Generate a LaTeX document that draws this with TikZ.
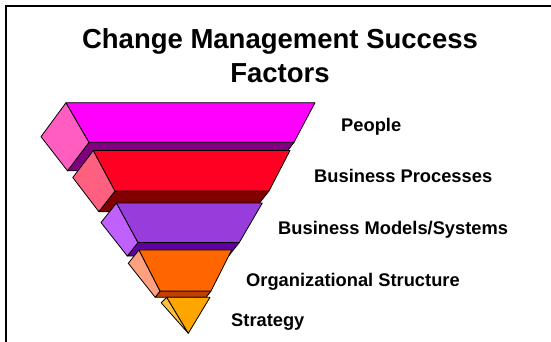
\documentclass[tikz,border=0pt]{standalone}
\usepackage{fontspec}
\setmainfont{Liberation Sans}
\definecolor{fA}{HTML}{FF00FF}\definecolor{sA}{HTML}{FF5EC0}\definecolor{bA}{HTML}{800080}
\definecolor{fB}{HTML}{FF0022}\definecolor{sB}{HTML}{FF6080}\definecolor{bB}{HTML}{800000}
\definecolor{fC}{HTML}{993CDC}\definecolor{sC}{HTML}{C060FF}\definecolor{bC}{HTML}{6000A0}
\definecolor{fD}{HTML}{FF6600}\definecolor{sD}{HTML}{FFA080}\definecolor{bD}{HTML}{C04000}
\definecolor{fE}{HTML}{FFA500}\definecolor{sE}{HTML}{FFC040}
\tikzset{
  face/.style={draw=black, line width=0.8pt, line join=round},
  lab/.style={anchor=base west, inner sep=0pt, font=\fontsize{18.3}{22}\selectfont\bfseries},
  ttl/.style={anchor=base, inner sep=0pt, font=\fontsize{27.5}{34}\selectfont\bfseries}
}
\begin{document}
\begin{tikzpicture}[x=1pt,y=-1pt]
\useasboundingbox (0,0) rectangle (551,341);
\draw[line width=2pt] (6,345) -- (6,6) -- (555,6);
% title
\node[ttl] (title1) at (280,48) {Change Management Success};
\node[ttl] (title2) at (280,82) {Factors};
% slab 1 People
\filldraw[face, fill=bA] (89,142.3) -- (294,142.3) -- (272.5,170.8) -- (67.5,170.8) -- cycle;
\filldraw[face, fill=sA] (66,102.7) -- (41,136.7) -- (67.5,170.8) -- (89,142.3) -- cycle;
\filldraw[face, fill=fA] (66,102.7) -- (315,102.7) -- (294,142.3) -- (89,142.3) -- cycle;
% slab 2 Business Processes
\filldraw[face, fill=bB] (115,191) -- (269,191) -- (252.8,211.6) -- (98.8,211.6) -- cycle;
\filldraw[face, fill=sB] (93.3,150.5) -- (72.8,177.5) -- (98.8,211.6) -- (115,191) -- cycle;
\filldraw[face, fill=fB] (93.3,150.5) -- (290,150.5) -- (269,191) -- (115,191) -- cycle;
% slab 3 Business Models/Systems
\filldraw[face, fill=bC] (138,242.5) -- (239.3,242.5) -- (228.6,256) -- (127.3,256) -- cycle;
\filldraw[face, fill=sC] (116.5,203) -- (101,222.5) -- (127.3,256) -- (138,242.5) -- cycle;
\filldraw[face, fill=fC] (116.5,203) -- (262.3,203) -- (239.3,242.5) -- (138,242.5) -- cycle;
% slab 4 Organizational Structure
\filldraw[face, fill=bD] (160,291) -- (211,291) -- (206.2,297.3) -- (155.2,297.3) -- cycle;
\filldraw[face, fill=sD] (139,250) -- (128.3,263.3) -- (155.2,297.3) -- (160,291) -- cycle;
\filldraw[face, fill=fD] (139,250) -- (231.7,250) -- (211,291) -- (160,291) -- cycle;
% slab 5 Strategy
\filldraw[face, fill=sE] (166.7,297.3) -- (161.2,302.8) -- (188.3,333.3) -- cycle;
\filldraw[face, fill=fE] (166.7,297.3) -- (210,297.3) -- (188.3,333.3) -- cycle;
% labels
\node[lab] (lab1) at (341,131.5) {People};
\node[lab] (lab2) at (314,182.5) {Business Processes};
\node[lab] (lab3) at (278,234.5) {Business Models/Systems};
\node[lab] (lab4) at (246,286.5) {Organizational Structure};
\node[lab] (lab5) at (231,326.5) {Strategy};
\end{tikzpicture}
\end{document}
